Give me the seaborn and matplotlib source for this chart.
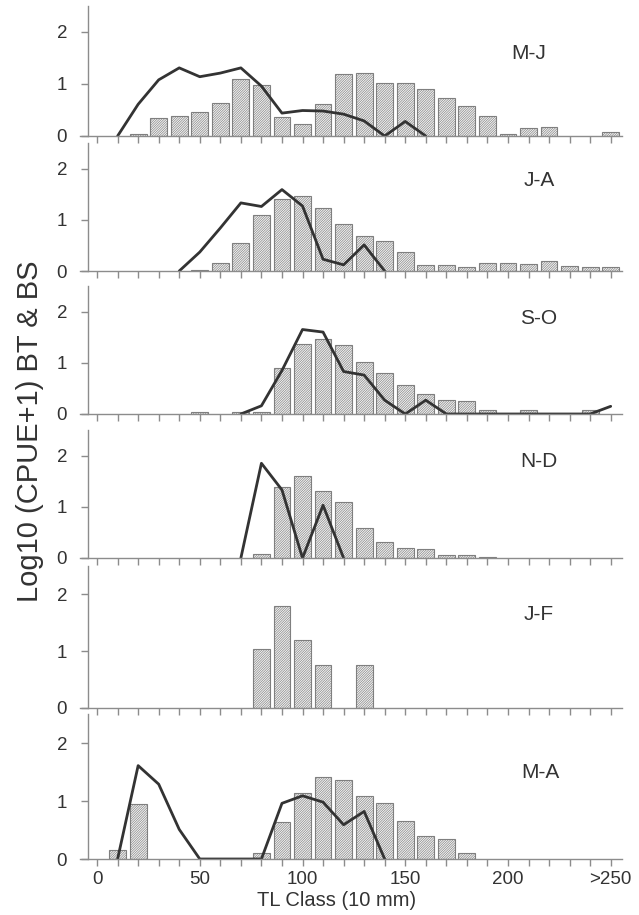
import numpy as np
import pandas as pd
import matplotlib
matplotlib.use("Agg")
import matplotlib.pyplot as plt
import seaborn as sns

nan = np.nan
classes = list(range(0, 260, 10))
tick_labels = ["0", "50", "100", "150", "200", ">250"]
panel_names = ["M-J", "J-A", "S-O", "N-D", "J-F", "M-A"]

bars_mj = [0, 0, 0.03, 0.34, 0.38, 0.46, 0.63, 1.09, 0.99, 0.36, 0.24, 0.61, 1.19,
           1.21, 1.01, 1.01, 0.90, 0.74, 0.58, 0.39, 0.03, 0.15, 0.17, 0, 0, 0.07]
line_mj = [nan, 0, 0.61, 1.08, 1.31, 1.14, 1.21, 1.31, 0.96, 0.44, 0.49, 0.48, 0.42,
           0.29, 0, 0.28, 0] + [nan] * 9

bars_ja = [0, 0, 0, 0, 0, 0.02, 0.16, 0.54, 1.09, 1.41, 1.46, 1.24, 0.92, 0.68, 0.59,
           0.37, 0.12, 0.11, 0.08, 0.16, 0.16, 0.14, 0.19, 0.10, 0.08, 0.08]
line_ja = [nan] * 4 + [0, 0.37, 0.84, 1.33, 1.26, 1.59, 1.27, 0.23, 0.12, 0.51, 0] + [nan] * 11

bars_so = [0, 0, 0, 0, 0, 0.03, 0, 0.03, 0.03, 0.89, 1.37, 1.47, 1.35, 1.02, 0.80,
           0.56, 0.40, 0.27, 0.25, 0.08, 0, 0.08, 0, 0, 0.08, 0]
line_so = [nan] * 7 + [0, 0.16, 0.85, 1.65, 1.60, 0.83, 0.76, 0.27, 0, 0.27, 0, 0, 0,
                       0, 0, 0, 0, 0, 0.15]

bars_nd = [0] * 8 + [0.07, 1.38, 1.61, 1.31, 1.10, 0.59, 0.32, 0.20, 0.18, 0.05, 0.05, 0.01] + [0] * 6
line_nd = [nan] * 7 + [0, 1.85, 1.33, 0, 1.03, 0] + [nan] * 13

bars_jf = [0] * 8 + [1.03, 1.80, 1.19, 0.76, 0, 0.76] + [0] * 12
line_jf = [nan] * 26

bars_ma = [0, 0.15, 0.94, 0, 0, 0, 0, 0, 0.10, 0.63, 1.14, 1.41, 1.36, 1.08, 0.97,
           0.65, 0.39, 0.34, 0.11] + [0] * 7
line_ma = [nan, 0, 1.61, 1.29, 0.51, 0, 0, 0, 0, 0.96, 1.09, 0.98, 0.59, 0.82, 0] + [nan] * 11

all_bars = [bars_mj, bars_ja, bars_so, bars_nd, bars_jf, bars_ma]
all_lines = [line_mj, line_ja, line_so, line_nd, line_jf, line_ma]
label_x = [210, 215, 215, 215, 215, 216]
label_y = [1.58, 1.76, 1.86, 1.88, 1.64, 1.50]

sns.set_theme(style="white")
plt.rcParams["font.family"] = ["Liberation Sans", "DejaVu Sans"]
plt.rcParams["hatch.linewidth"] = 0.45

W, H = 639, 915
fig = plt.figure(figsize=(W / 100, H / 100), dpi=100)
fig.patch.set_facecolor("white")

left_px, right_px = 80, 622
x_left, x_right = -8.3, 255.5
panels_px = [(6, 136), (143, 271), (286, 414), (430, 558), (566, 708), (714, 859)]
spine_col = "#8c8c8c"
text_col = "#333333"

for i, name in enumerate(panel_names):
    top, zero = panels_px[i]
    ax = fig.add_axes([left_px / W, 1 - zero / H, (right_px - left_px) / W, (zero - top) / H])
    df = pd.DataFrame({"TL": classes, "val": all_bars[i]})
    df = df[df["val"] > 0]
    sns.barplot(data=df, x="TL", y="val", native_scale=True, width=0.82,
                color="#f3f3f3", saturation=1, edgecolor="#7f7f7f", linewidth=0.8,
                hatch="/" * 14, errorbar=None, ax=ax)
    ldf = pd.DataFrame({"TL": classes, "val": all_lines[i]}).dropna()
    if len(ldf):
        sns.lineplot(data=ldf, x="TL", y="val", color="#333333", linewidth=2.0,
                     estimator=None, sort=False, ax=ax)
    ax.set_xlim(x_left, x_right)
    ax.set_ylim(0, 2.5)
    ax.spines["left"].set_position(("data", -4.4))
    ax.set_yticks([0, 1, 2])
    ax.set_yticklabels(["0", "1", "2"], fontsize=13.5, color=text_col)
    ax.set_xticks(classes)
    if i == len(panel_names) - 1:
        labs = []
        for c in classes:
            labs.append(tick_labels[c // 50] if c % 50 == 0 else "")
        ax.set_xticklabels(labs, fontsize=13.5, color=text_col)
    else:
        ax.set_xticklabels([])
    ax.set_xlabel("")
    ax.set_ylabel("")
    for s in ["top", "right"]:
        ax.spines[s].set_visible(False)
    for s in ["left", "bottom"]:
        ax.spines[s].set_color(spine_col)
        ax.spines[s].set_linewidth(1.0)
    ax.tick_params(axis="both", direction="out", length=5, width=1.0, color=spine_col,
                   left=True, bottom=True)
    ax.tick_params(axis="y", pad=10)
    ax.tick_params(axis="x", pad=4)
    ax.set_facecolor("none")
    ax.patch.set_alpha(0)
    ax.text(label_x[i], label_y[i], name, ha="center", va="center", fontsize=15,
            color=text_col)

fig.text(30 / W, 1 - 431 / H, "Log10 (CPUE+1) BT & BS", rotation=90, fontsize=21,
         ha="center", va="center", color=text_col)
fig.text(337 / W, 1 - 900 / H, "TL Class (10 mm)", fontsize=14.5, ha="center",
         va="center", color=text_col)

fig.savefig("out.png", dpi=100, facecolor="white")
